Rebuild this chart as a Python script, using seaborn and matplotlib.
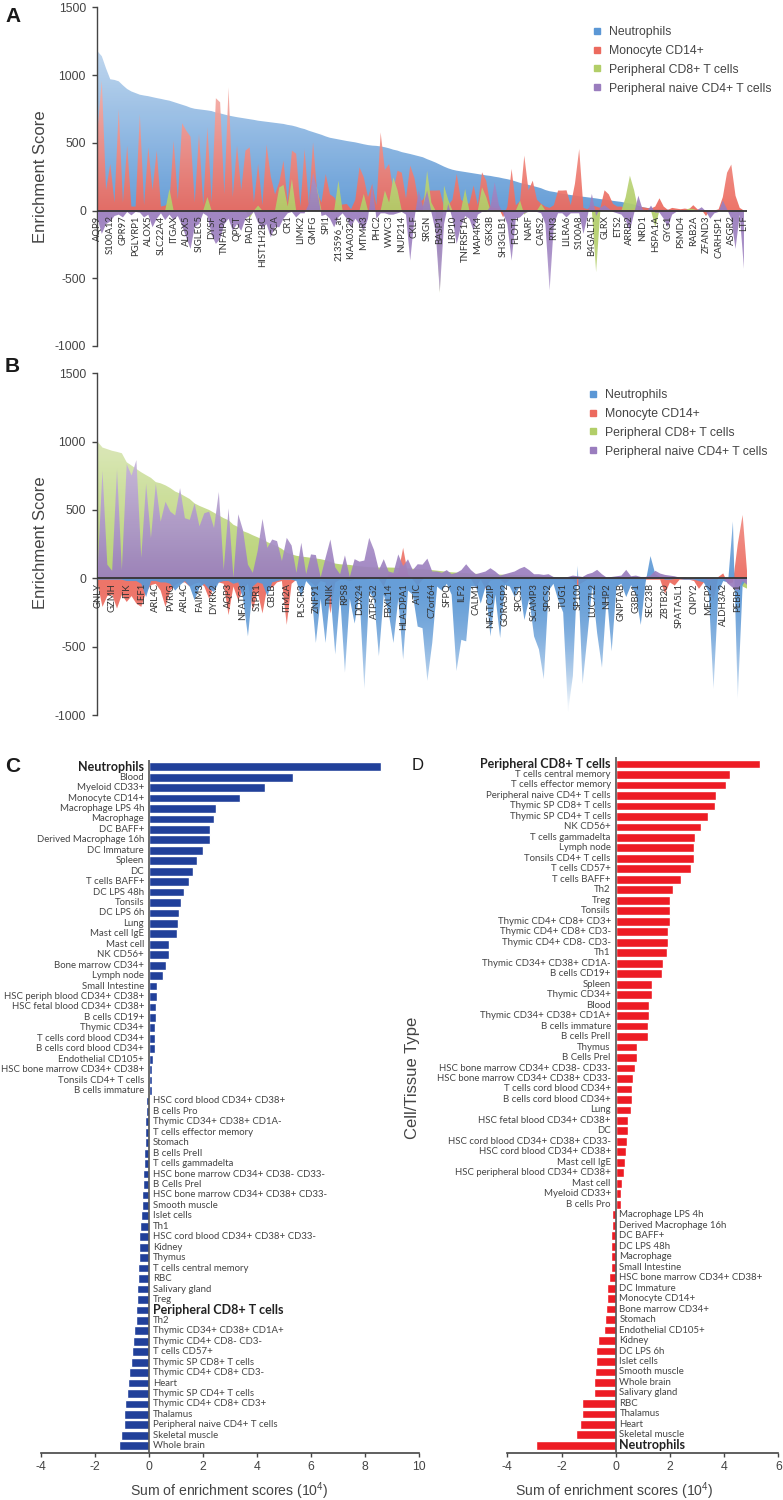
import numpy as np
import pandas as pd
import matplotlib
matplotlib.use("Agg")
import matplotlib.pyplot as plt
import seaborn as sns
from matplotlib.lines import Line2D
from matplotlib.patches import PathPatch
from matplotlib.colors import to_rgb

# Panel A: enrichment scores per gene rank
neutrophils_a = [
    1176, 1140, 1050, 970, 965, 955, 925, 898, 880, 868, 856, 850, 845, 838, 831, 825, 818, 812, 802, 792,
    782, 772, 760, 752, 748, 744, 740, 735, 725, 718, 710, 702, 696, 690, 685, 680, 675, 670, 664, 660,
    656, 652, 648, 644, 640, 633, 628, 620, 610, 602, 590, 580, 570, 560, 548, 538, 532, 526, 520, 514,
    509, 504, 497, 490, 484, 480, 478, 474, 468, 460, 450, 443, 432, 425, 418, 410, 402, 394, 380, 368,
    355, 340, 325, 312, 302, 295, 290, 285, 280, 275, 270, 265, 260, 256, 250, 245, 238, 232, 225, 215,
    205, 197, 190, 182, 174, 165, 152, 143, 138, 132, 125, 120, 115, 111, 106, 102, 98, 94, 90, 85,
    81, 77, 72, 68, 64, 58, 52, 45, 35, 25, 20, 15, 12, 10, 8, 7, 6, 5, 5, 4,
    4, 4, 3, 3, 3, 3, 2, 2, 2, 2, 1, 1, 1, 0]
monocyte_a = [
    600, 960, 150, 345, 60, 750, 60, 480, 30, 30, 713, 40, 467, 150, 443, 30, 37, 60, 516, 80,
    645, 590, 546, 60, 565, 40, 615, 60, 830, 800, 120, 910, 100, 480, 150, 443, 467, 60, 345, 40,
    487, 250, 120, 210, 369, 60, 443, 420, 30, 455, 40, 504, 130, 60, 270, 120, 98, 40, 45, 49,
    10, 80, 320, 246, 100, 197, 40, 578, 300, 344, 150, 295, 280, 90, 332, 240, 60, 80, 148, 148,
    148, 150, 30, 40, 80, 270, 80, 60, 50, 185, 40, 283, 220, 30, 20, 15, -50, 30, 308, 40,
    70, 406, 150, 221, 80, 50, 30, 20, 40, 148, 148, 150, 40, 200, 455, 20, 10, 40, 30, 20,
    150, 120, 50, 30, 30, 10, 10, 20, 30, 25, 20, 15, 30, 91, 30, 5, 20, 15, 10, 15,
    10, 40, 10, 5, -40, 0, 0, 10, 100, 280, 340, 110, 20, 0]
cd8_a = [
    0, 0, 0, 0, 0, 0, 0, 0, 0, 0, 0, 0, 0, 0, 0, 0, 0, 160, 0, 0,
    0, 0, 0, 0, 0, 0, 100, 0, 0, 0, 0, 0, 0, 0, 0, 0, -60, 0, 37, 0,
    0, 0, 0, 170, 190, 30, 234, 0, 0, 0, 0, 221, 160, 0, 0, 0, 0, 221, 0, 0,
    0, 0, 0, 123, 0, 0, 0, 0, 148, 60, 246, 150, 0, 0, 0, 0, 0, 0, 295, 60,
    0, -610, 185, 80, 0, 0, 0, 160, 0, 0, 0, 172, 100, 0, 0, 0, 0, 0, 0, 0,
    74, -30, 0, 0, 0, 49, 0, 0, 0, 0, 0, 0, 0, 0, 0, 0, 0, 0, -455, 0,
    0, 0, 0, 0, 0, 100, 258, 150, 0, 0, 0, 0, -120, 0, 0, 0, 0, 0, 0, 0,
    15, 12, 0, 0, 0, 0, 0, 0, 0, 0, 0, 0, 0, 0]
naive_cd4_a = [
    -60, -172, -100, -80, -40, -30, -50, -10, -35, -10, -15, -50, -30, -123, -60, -20, -70, -30, -70, -40,
    -110, -200, -283, -120, -100, -20, -40, -180, -246, -210, -100, -60, -148, -100, -150, -60, -40, -10, -90, -130,
    -100, -197, -120, -123, -60, -20, -10, -50, -20, -20, 50, 280, 150, -40, -30, -60, -123, -50, -20, -60,
    -123, -60, -100, -148, -60, 197, -60, -20, -20, -30, -30, -20, -10, -30, -369, -60, 148, 30, 148, -10,
    -150, -600, -100, 50, -60, -246, -120, -40, -60, -148, -30, -10, -10, 30, 209, 40, -20, -100, -369, -60,
    -50, -20, -10, -10, -10, -20, -100, -590, -100, -20, -20, -50, -20, -20, -20, -172, -40, 123, -40, 20,
    40, 15, -10, -20, -30, -70, -148, -20, 110, 10, -10, 37, -15, -15, -60, -123, -30, -10, -10, -10,
    -10, -5, 5, 25, -5, -60, -20, -10, 74, 10, -60, -283, -30, -430]
genes_a = ["AQP9", "S100A12", "GPR97", "PGLYRP1", "ALOX5", "SLC22A4", "ITGAX", "ALOX5", "SIGLEC5", "DYSF",
           "TNFAIP6", "QPCT", "PADI4", "HIST1H2BC", "GCA", "CR1", "LIMK2", "GMFG", "SPI1", "213596_at",
           "KIAA0329", "MTMR3", "PHC2", "WWC3", "NUP214", "CKLF", "SRGN", "BASP1", "LRP10", "TNFRSF1A",
           "MAP4K4", "GSK3B", "SH3GLB1", "FLOT1", "NARF", "CARS2", "RTN3", "LILRA6", "S100A8", "B4GALT5",
           "GLRX", "ETS2", "ARRB2", "NRD1", "HSPA1A", "GYG1", "PSMD4", "RAB2A", "ZFAND3", "CARHSP1",
           "ASGR2", "LTF"]

# Panel B
cd8_b = [
    1000, 957, 945, 933, 925, 915, 849, 825, 800, 776, 755, 735, 704, 695, 680, 660, 635, 620, 600, 580,
    548, 530, 515, 500, 480, 460, 440, 425, 392, 375, 345, 332, 315, 300, 284, 265, 250, 235, 215, 188,
    175, 165, 159, 155, 150, 145, 140, 132, 120, 108, 103, 100, 98, 92, 88, 84, 82, 80, 79, 78,
    79, 78, 76, 74, 72, 70, 68, 67, 64, 60, 56, 52, 48, 44, 42, 40, 38, 35, 33, 31,
    30, 29, 28, 27, 26, 26, 25, 24, 22, 20, 18, 16, 14, 12, 10, 9, 8, 7, 7, 6,
    6, 6, 5, 5, 5, 5, 5, 5, 5, 5, 5, 5, 5, 5, 5, 5, 5, 5, 5, 5,
    5, 5, 5, 5, 5, 5, 5, 5, 5, 5, 5, 5, 5, -60, -77]
naive_cd4_b = [
    60, 788, 100, 55, 800, 60, 836, 752, 865, 150, 692, 295, 692, 415, 560, 488, 460, 660, 440, 428,
    548, 380, 476, 488, 368, 632, 60, 512, 5, 469, 350, 100, 40, 200, 435, 223, 284, 272, 127, 296,
    240, 40, 260, 31, 175, 170, 7, 150, 284, 80, 30, 168, 10, 140, 122, 130, 296, 207, 60, 140,
    50, 40, 175, 90, 139, 60, 103, 100, 144, 50, 50, 40, 60, 30, 40, 60, 103, 60, 30, 40,
    50, 74, 50, 20, 30, 40, 50, 70, 84, 60, 30, 30, 25, 30, 10, 5, 5, 10, 20, 15,
    10, 30, 40, 62, 30, 5, 10, 15, 20, 62, 15, 20, 10, 10, 20, 55, 35, 25, 20, 15,
    5, 5, 0, 0, 0, 0, -10, -5, 5, 0, -40, -70, -90, -20, -50]
neutrophils_b = [
    -10, -10, -10, -10, -10, -10, -20, -20, -20, -40, -137, -20, -20, -30, -30, -40, -90, -50, -20, -60,
    -161, -70, -40, -80, -100, -30, -20, -20, -40, -30, -150, -425, -60, -30, -40, -130, -30, -20, -10, -10,
    -10, -20, -137, -20, -60, -473, -150, -473, -100, -557, -120, -690, -150, -331, -120, -810, -100, -150, -570, -120,
    -250, -473, -150, -594, -90, -120, -353, -365, -750, -473, -60, -90, -40, -120, -678, -450, -461, -60, -60, -185,
    -60, -425, -120, -437, -50, -60, -137, -60, -305, -150, -425, -520, -738, -90, -40, -161, -250, -978, -714, 91,
    -774, -425, -60, -400, -654, -120, -534, -60, -40, -137, -50, -120, -341, -30, 163, 30, 10, -10, -10, -5,
    -5, -10, -10, -10, -20, -30, -100, -810, -100, -20, -30, 416, -882, -50, 0]
monocyte_b = [
    -40, -209, -130, -120, -221, -120, -173, -130, -185, -209, -100, -50, -40, -90, -209, -90, -50, -30, -30, -60,
    -40, -30, -60, -149, -60, -30, -40, -269, -60, -161, -80, -40, -233, -100, -257, -60, -70, -30, -20, -341,
    -40, -10, -10, -10, -30, -60, -20, -30, -257, -30, -10, -10, -20, -10, -10, -10, -5, -5, -5, -60,
    30, 30, 40, 223, 30, -10, -53, -10, 10, -5, -5, -5, -5, -5, -5, -5, -5, -5, -65, -10,
    -77, -15, -10, -10, -40, -10, -10, -10, -10, -10, -10, -10, -10, -10, -10, -10, -10, -10, -10, -53,
    -30, -10, -10, -10, -10, -10, -10, -10, -10, -10, -10, -10, -10, -10, -10, -10, -10, -113, -30, -53,
    -10, -10, -10, -20, -77, -30, -60, -161, 10, 36, -40, -30, 250, 464, 10]
genes_b = ["GNLY", "GZMH", "ITK", "LEF1", "ARL4C", "PVRIG", "ARL4C", "FAIM3", "DYRK2", "AQP3",
           "NFATC3", "S1PR1", "CBLB", "ITM2A", "PLSCR3", "ZNF91", "TNIK", "RPS8", "DDX24", "ATP5G2",
           "FBXL14", "HLA-DPA1", "ATIC", "C7orf64", "SFPQ", "ILF2", "CALM1", "NFATC2IP", "GORASP2", "SPCS1",
           "SCAMP3", "SPCS2", "TUG1", "SP100", "LUC7L2", "NHP2", "GNPTAB", "G3BP1", "SEC23B", "ZBTB20",
           "SPATA5L1", "CNPY2", "MECP2", "ALDH3A2", "PEBP1"]

# Panel C
tissues_c = ["Neutrophils", "Blood", "Myeloid CD33+", "Monocyte CD14+", "Macrophage LPS 4h", "Macrophage",
             "DC BAFF+", "Derived Macrophage 16h", "DC Immature", "Spleen", "DC", "T cells BAFF+", "DC LPS 48h",
             "Tonsils", "DC LPS 6h", "Lung", "Mast cell IgE", "Mast cell", "NK CD56+", "Bone marrow CD34+",
             "Lymph node", "Small Intestine", "HSC periph blood CD34+ CD38+", "HSC fetal blood CD34+ CD38+",
             "B cells CD19+", "Thymic CD34+", "T cells cord blood CD34+", "B cells cord blood CD34+",
             "Endothelial CD105+", "HSC bone marrow CD34+ CD38+", "Tonsils CD4+ T cells", "B cells immature",
             "HSC cord blood CD34+ CD38+", "B cells Pro", "Thymic CD34+ CD38+ CD1A-", "T cells effector memory",
             "Stomach", "B cells PreII", "T cells gammadelta", "HSC bone marrow CD34+ CD38- CD33-", "B Cells PreI",
             "HSC bone marrow CD34+ CD38+ CD33-", "Smooth muscle", "Islet cells", "Th1",
             "HSC cord blood CD34+ CD38+ CD33-", "Kidney", "Thymus", "T cells central memory", "RBC",
             "Salivary gland", "Treg", "Peripheral CD8+ T cells", "Th2", "Thymic CD34+ CD38+ CD1A+",
             "Thymic CD4+ CD8- CD3-", "T cells CD57+", "Thymic SP CD8+ T cells", "Thymic CD4+ CD8+ CD3-", "Heart",
             "Thymic SP CD4+ T cells", "Thymic CD4+ CD8+ CD3+", "Thalamus", "Peripheral naive CD4+ T cells",
             "Skeletal muscle", "Whole brain"]
scores_c = [8.57, 5.33, 4.31, 3.37, 2.47, 2.42, 2.26, 2.25, 2.0, 1.78, 1.65, 1.48, 1.31, 1.19, 1.11, 1.09, 1.05,
            0.74, 0.73, 0.65, 0.54, 0.31, 0.30, 0.28, 0.26, 0.23, 0.21, 0.21, 0.14, 0.13, 0.13, 0.13,
            -0.12, -0.12, -0.13, -0.14, -0.15, -0.17, -0.19, -0.21, -0.23, -0.25, -0.26, -0.28, -0.31, -0.35, -0.36,
            -0.37, -0.41, -0.41, -0.43, -0.44, -0.47, -0.48, -0.54, -0.58, -0.62, -0.67, -0.73, -0.79, -0.81, -0.89,
            -0.91, -0.93, -1.04, -1.09]

# Panel D
tissues_d = ["Peripheral CD8+ T cells", "T cells central memory", "T cells effector memory",
             "Peripheral naive CD4+ T cells", "Thymic SP CD8+ T cells", "Thymic SP CD4+ T cells", "NK CD56+",
             "T cells gammadelta", "Lymph node", "Tonsils CD4+ T cells", "T cells CD57+", "T cells BAFF+", "Th2",
             "Treg", "Tonsils", "Thymic CD4+ CD8+ CD3+", "Thymic CD4+ CD8+ CD3-", "Thymic CD4+ CD8- CD3-", "Th1",
             "Thymic CD34+ CD38+ CD1A-", "B cells CD19+", "Spleen", "Thymic CD34+", "Blood",
             "Thymic CD34+ CD38+ CD1A+", "B cells immature", "B cells PreII", "Thymus", "B Cells PreI",
             "HSC bone marrow CD34+ CD38- CD33-", "HSC bone marrow CD34+ CD38+ CD33-", "T cells cord blood CD34+",
             "B cells cord blood CD34+", "Lung", "HSC fetal blood CD34+ CD38+", "DC",
             "HSC cord blood CD34+ CD38+ CD33-", "HSC cord blood CD34+ CD38+", "Mast cell IgE",
             "HSC peripheral blood CD34+ CD38+", "Mast cell", "Myeloid CD33+", "B cells Pro",
             "Macrophage LPS 4h", "Derived Macrophage 16h", "DC BAFF+", "DC LPS 48h", "Macrophage", "Small Intestine",
             "HSC bone marrow CD34+ CD38+", "DC Immature", "Monocyte CD14+", "Bone marrow CD34+", "Stomach",
             "Endothelial CD105+", "Kidney", "DC LPS 6h", "Islet cells", "Smooth muscle", "Whole brain",
             "Salivary gland", "RBC", "Thalamus", "Heart", "Skeletal muscle", "Neutrophils"]
scores_d = [5.34, 4.23, 4.06, 3.69, 3.67, 3.41, 3.15, 2.92, 2.90, 2.89, 2.77, 2.42, 2.13, 2.02, 2.02, 2.0, 1.92,
            1.92, 1.91, 1.76, 1.71, 1.35, 1.33, 1.24, 1.23, 1.21, 1.18, 0.79, 0.77, 0.73, 0.62, 0.60, 0.60, 0.58,
            0.46, 0.44, 0.43, 0.37, 0.33, 0.30, 0.22, 0.20, 0.20,
            -0.15, -0.15, -0.16, -0.16, -0.18, -0.18, -0.26, -0.32, -0.33, -0.37, -0.41, -0.42, -0.64, -0.71, -0.74,
            -0.76, -0.79, -0.80, -1.23, -1.25, -1.30, -1.48, -2.95]

legend_names = ["Neutrophils", "Monocyte CD14+", "Peripheral CD8+ T cells", "Peripheral naive CD4+ T cells"]
blue, red, green, purple = "#5B97D5", "#EC6A5E", "#B2CE68", "#9A7DBE"

sns.set_style("white")
plt.rcParams["font.family"] = ["Liberation Sans", "DejaVu Sans"]
plt.rcParams["mathtext.default"] = "regular"
plt.rcParams["axes.unicode_minus"] = False
text_col = "#444444"

W, H = 783, 1500
fig = plt.figure(figsize=(W / 100, H / 100), dpi=100)


def axes_px(left, top, right, bottom):
    return fig.add_axes([left / W, 1 - bottom / H, (right - left) / W, (bottom - top) / H])


def gradient_area(ax, values, color, z):
    # area filled from zero, going paler with distance from the axis
    x = np.arange(len(values))
    poly = ax.fill_between(x, values, 0, color="none", lw=0)
    clip = PathPatch(poly.get_paths()[0], transform=ax.transData, fc="none", ec="none")
    ax.add_patch(clip)
    levels = np.linspace(1500, -1000, 500)
    pale = np.where(levels > 0, 0.5 * levels / 1000,
                    np.clip(0.85 * (np.abs(levels) / 900) ** 2, 0, 0.92))
    rgba = np.zeros((500, 1, 4))
    rgba[..., :3] = (1 - pale[:, None, None]) * np.array(to_rgb(color)) + pale[:, None, None]
    rgba[..., 3] = 0.93
    im = ax.imshow(rgba, extent=[x[0], x[-1], -1000, 1500], aspect="auto", zorder=z, interpolation="bilinear")
    im.set_clip_path(clip)


def area_panel(ax, layers, genes, xlim, legend_xy):
    for z, (values, color) in enumerate(layers):
        gradient_area(ax, values, color, z + 1)
    ax.set_xlim(*xlim)
    ax.set_ylim(-1000, 1500)
    ax.axhline(0, color="#333333", lw=1.3, zorder=6)
    ax.set_yticks([-1000, -500, 0, 500, 1000, 1500])
    ax.set_xticks([])
    ax.tick_params(axis="y", left=True, length=3.6, width=1, color=text_col, labelcolor=text_col,
                   labelsize=8.8, pad=4)
    ax.patch.set_alpha(0)
    sns.despine(ax=ax, bottom=True)
    ax.spines["left"].set_color(text_col)
    ax.spines["left"].set_linewidth(1)
    for i, name in enumerate(genes):
        ax.annotate(name, xy=(i * 3, 0), xytext=(0, -3.5), textcoords="offset points", rotation=90,
                    ha="center", va="top", fontsize=6.8, color="#333333", family=["Lato", "DejaVu Sans"], zorder=7)
    handles = [Line2D([], [], marker="s", ls="none", color=c, ms=4.6) for c in (blue, red, green, purple)]
    ax.legend(handles, legend_names, loc="upper left", bbox_to_anchor=(legend_xy[0] / W, 1 - legend_xy[1] / H),
              bbox_transform=fig.transFigure, frameon=False, fontsize=8.8, labelspacing=0.56,
              handletextpad=0.35, handlelength=1.2, borderpad=0, borderaxespad=0, labelcolor=text_col)
    ax.set_ylabel("Enrichment Score", fontsize=12, color=text_col)


ax_a = axes_px(96.5, 7.5, 746.5, 346)
area_panel(ax_a, [(neutrophils_a, blue), (monocyte_a, red), (cd8_a, green), (naive_cd4_a, purple)],
           genes_a, (-0.26, 153.6), (590, 26))
ax_a.yaxis.set_label_coords(48 / W, 1 - 177 / H, transform=fig.transFigure)

ax_b = axes_px(96.5, 373.3, 746.5, 715)
area_panel(ax_b, [(cd8_b, green), (monocyte_b, red), (neutrophils_b, blue), (naive_cd4_b, purple)],
           genes_b, (-0.23, 133.8), (586, 389))
ax_b.yaxis.set_label_coords(48 / W, 1 - 543 / H, transform=fig.transFigure)


def bar_panel(ax, tissues, scores, color, xticks, bold, ylim):
    df = pd.DataFrame({"tissue": tissues, "score": scores})
    sns.barplot(data=df, x="score", y="tissue", orient="h", color=color, width=0.84, saturation=1, ax=ax)
    ax.set_xlim(xticks[0], xticks[-1])
    ax.set_ylim(*ylim)
    ax.set_yticks([])
    ax.set_ylabel("")
    ax.set_xticks(xticks)
    ax.tick_params(axis="x", bottom=True, length=3, width=1, color=text_col, labelcolor=text_col,
                   labelsize=8.8, pad=3)
    ax.axvline(0, color="#555555", lw=1.2, zorder=5)
    ax.patch.set_alpha(0)
    sns.despine(ax=ax, left=True)
    ax.spines["bottom"].set_color(text_col)
    ax.spines["bottom"].set_linewidth(1.2)
    for i, (name, val) in enumerate(zip(tissues, scores)):
        strong = name in bold
        ax.text(-0.18 if val > 0 else 0.14, i, name, ha="right" if val > 0 else "left", va="center",
                fontsize=9 if strong else 6.95, fontweight="bold" if strong else "normal",
                color="#222222" if strong else text_col, family=["Lato", "DejaVu Sans"])
    ax.set_xlabel("Sum of enrichment scores (10$^4$)", fontsize=10.1, color=text_col)


ax_c = axes_px(40.7, 760, 419.3, 1452.7)
bar_panel(ax_c, tissues_c, scores_c, "#21409A", [-4, -2, 0, 2, 4, 6, 8, 10],
          ["Neutrophils", "Peripheral CD8+ T cells"], (65.67, -0.64))
ax_c.xaxis.set_label_coords(229 / W, 1 - 1480 / H, transform=fig.transFigure)

ax_d = axes_px(507.3, 757, 778.3, 1452.7)
bar_panel(ax_d, tissues_d, scores_d, "#ED1C24", [-4, -2, 0, 2, 4, 6],
          ["Neutrophils", "Peripheral CD8+ T cells"], (65.7, -0.67))
ax_d.xaxis.set_label_coords(614 / W, 1 - 1480 / H, transform=fig.transFigure)

fig.text(412 / W, 1 - 1078 / H, "Cell/Tissue Type", rotation=90, ha="center", va="center", fontsize=12, color=text_col)

for letter, x, y, size, weight in [("A", 5, 16, 15, "bold"), ("B", 5, 367, 15, "bold"), ("C", 5, 767, 15, "bold"),
                                   ("D", 412, 765, 12, "normal")]:
    fig.text(x / W, 1 - y / H, letter, ha="left", va="center", fontsize=size, fontweight=weight, color="#1a1a1a")

plt.savefig("out.png", dpi=100)
